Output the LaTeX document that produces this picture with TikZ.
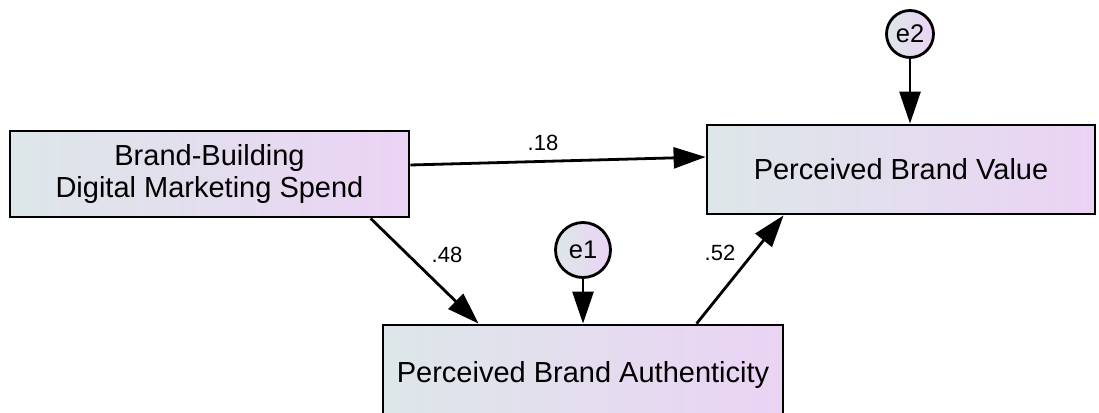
\documentclass[tikz,border=0pt]{standalone}
\usepackage{fontspec}
\setmainfont{Liberation Sans}
\usetikzlibrary{arrows.meta,calc}
\definecolor{gL}{RGB}{221,231,233}
\definecolor{gM}{RGB}{230,220,240}
\definecolor{gR}{RGB}{235,211,244}
\tikzset{
  var/.style={draw=black, line width=2.8pt, left color=gL, middle color=gM, right color=gR, inner sep=0pt, align=center, font=\fontsize{29}{31.5}\selectfont},
  err/.style={draw=black, line width=2.8pt, circle, left color=gL, middle color=gM, right color=gR, inner sep=0pt, font=\fontsize{25.5}{25.5}\selectfont},
  path/.style={line width=2.8pt, -{Triangle[length=32pt,width=21pt]}},
  coef/.style={font=\fontsize{22}{22}\selectfont, inner sep=0pt}
}
\begin{document}
\begin{tikzpicture}[x=1pt,y=-1pt]
\clip (0,0) rectangle (1099,412);
\fill[white] (0,0) rectangle (1099,412);
\node[var, minimum width=399pt, minimum height=86pt] (bb) at (209.5,174) {Brand-Building\\Digital Marketing Spend};
\node[var, minimum width=388pt, minimum height=89pt] (pbv) at (901,169.5) {Perceived Brand Value};
\node[var, minimum width=400pt, minimum height=94pt, text depth=0pt] (pba) at (583,372) {Perceived Brand Authenticity};
\node[err, minimum size=55pt] (e1) at (583,250) {e1};
\node[err, minimum size=47pt] (e2) at (910,34) {e2};
\draw[path] ([yshift=9pt]bb.east) -- ([yshift=12.5pt]pbv.west);
\draw[path] ([xshift=362pt]bb.south west) -- ([xshift=97pt]pba.north west);
\draw[path] ([xshift=315pt]pba.north west) -- ([xshift=78pt]pbv.south west);
\draw[path] (e1) -- (e1 |- pba.north);
\draw[path] (e2) -- (e2 |- pbv.north);
\node[coef] (c18) at (543,143) {.18};
\node[coef] (c48) at (447,255) {.48};
\node[coef] (c52) at (720,253) {.52};
\end{tikzpicture}
\end{document}
